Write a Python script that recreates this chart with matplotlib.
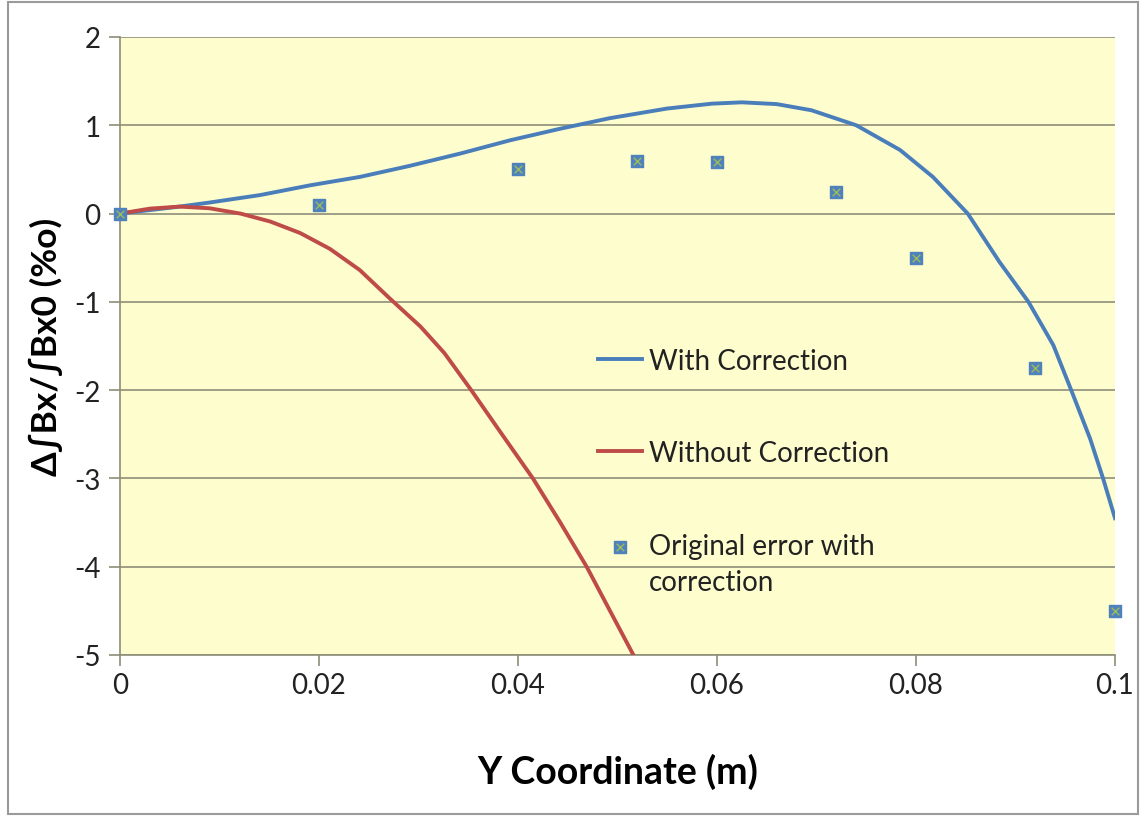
import numpy as np
import matplotlib.pyplot as plt
from matplotlib.patches import Rectangle
from matplotlib.legend_handler import HandlerTuple

plt.rcParams['font.family'] = ['Lato', 'DejaVu Sans']
plt.rcParams['axes.unicode_minus'] = False

# curves
y_with = [0, 0.0057, 0.009, 0.0141, 0.0191, 0.0241, 0.0291, 0.0342, 0.0392, 0.0442,
          0.0492, 0.055, 0.0595, 0.0625, 0.066, 0.0695, 0.074, 0.0784, 0.0817, 0.0852,
          0.0884, 0.0913, 0.0938, 0.0956, 0.0975, 0.0988, 0.1]
err_with = [0, 0.075, 0.125, 0.21, 0.32, 0.415, 0.54, 0.68, 0.83, 0.96,
            1.08, 1.19, 1.245, 1.26, 1.24, 1.17, 1.0, 0.72, 0.415, 0.0,
            -0.55, -1.0, -1.49, -2.0, -2.55, -3.0, -3.45]

y_without = [0, 0.003, 0.006, 0.009, 0.0121, 0.0151, 0.0181, 0.0211, 0.0241, 0.0271,
             0.0302, 0.0326, 0.0353, 0.0382, 0.0415, 0.0442, 0.0469, 0.0492, 0.0516]
err_without = [0, 0.056, 0.079, 0.06, 0.0, -0.09, -0.22, -0.40, -0.64, -0.96,
               -1.28, -1.58, -2.0, -2.47, -3.0, -3.49, -4.0, -4.49, -5.0]

y_orig = [0, 0.02, 0.04, 0.052, 0.06, 0.072, 0.08, 0.092, 0.1]
err_orig = [0, 0.1, 0.5, 0.6, 0.58, 0.25, -0.5, -1.75, -4.5]

xticks = [0, 0.02, 0.04, 0.06, 0.08, 0.1]
xticklabels = ['0', '0.02', '0.04', '0.06', '0.08', '0.1']
yticks = [-5, -4, -3, -2, -1, 0, 1, 2]

blue = '#4A7EBB'
red = '#BE4B48'
grid = '#8E8E78'

fig = plt.figure(figsize=(11.46, 8.2), dpi=100)
ax = fig.add_axes([120/1146, 1 - 656/820, 995/1146, 618/820])
ax.set_facecolor('#FEFDCD')

for yv in yticks:
    ax.axhline(yv, color=grid, lw=1.2, zorder=1)

l1, = ax.plot(y_with, err_with, color=blue, lw=2.8, zorder=3, label='With Correction')
l2, = ax.plot(y_without, err_without, color=red, lw=2.8, zorder=3, label='Without Correction')
s1 = ax.scatter(y_orig, err_orig, marker='s', s=85, color='#4F81BD', zorder=4, clip_on=False)
s2 = ax.scatter(y_orig, err_orig, marker='x', s=30, color='#9BBB59', lw=1.0, zorder=5, clip_on=False)

ax.set_xlim(0, 0.1)
ax.set_ylim(-5, 2)
ax.set_xticks(xticks)
ax.set_xticklabels(xticklabels)
ax.set_yticks(yticks)
ax.tick_params(axis='both', labelsize=20, colors='#222222', length=8, width=1.2,
               color=grid, direction='out')
ax.tick_params(axis='x', pad=4)
ax.tick_params(axis='y', pad=6)

for side in ['top', 'right']:
    ax.spines[side].set_visible(False)
ax.spines['left'].set_color(grid)
ax.spines['left'].set_linewidth(1.2)
ax.spines['bottom'].set_color(grid)
ax.spines['bottom'].set_linewidth(1.2)

ax.set_xlabel('Y Coordinate (m)', fontsize=27, fontweight='bold', labelpad=40)
ax.set_ylabel('Δ∫Bx/∫Bx0 (%o)', fontsize=25.5, fontweight='bold', labelpad=8)

leg = ax.legend([l1, l2, (s1, s2)],
                ['With Correction', 'Without Correction', 'Original error with'],
                handler_map={tuple: HandlerTuple(ndivide=1)},
                loc='upper left', bbox_to_anchor=(0.455, 0.538), frameon=False,
                fontsize=20, labelspacing=2.4, handlelength=1.6, handletextpad=0.25)
for t in leg.get_texts():
    t.set_color('#222222')

# second line of the last legend label, placed under the first one
fig.canvas.draw()
bb = leg.get_texts()[2].get_window_extent()
fig.text(bb.x0 / 1146, (bb.y0 - 10) / 820, 'correction', fontsize=20, color='#222222',
         ha='left', va='top')

fig.patches.append(Rectangle((8/1146, 5/820), 1130/1146, 812/820, transform=fig.transFigure,
                             fill=False, edgecolor='#9A9A9A', lw=1.5))

fig.savefig('out.png', dpi=100)
